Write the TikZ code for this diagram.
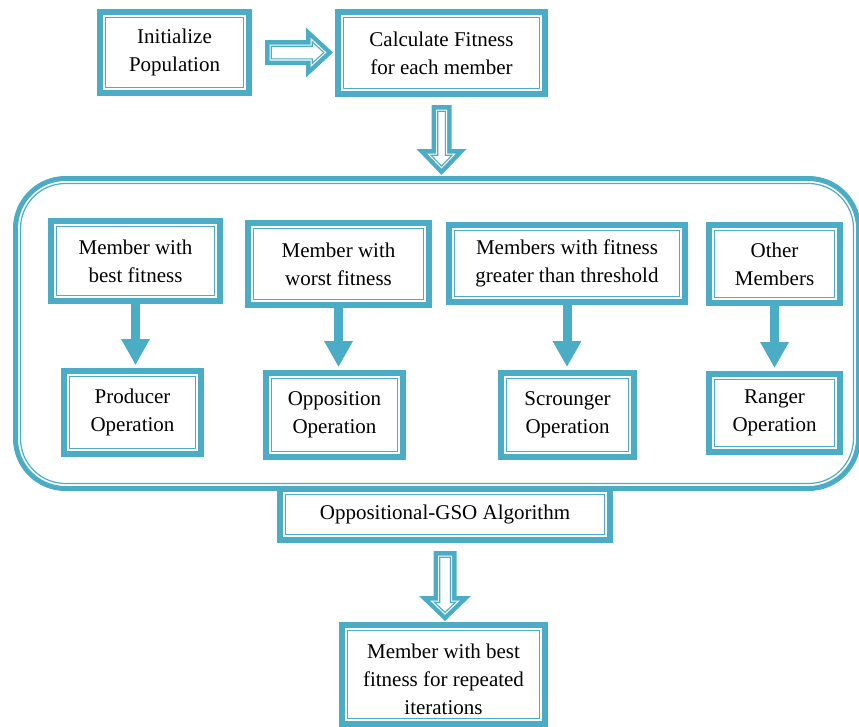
\documentclass[tikz,border=0pt]{standalone}
\usepackage{fontspec}
\setmainfont{Liberation Serif}
\usetikzlibrary{arrows.meta, positioning}
\definecolor{gsoblue}{RGB}{75,172,198}

% hollow block arrow: #1 tail, #2 angle, #3 length, #4 head width, #5 shaft width, #6 head length
\newcommand\hollowarrow[6]{%
  \begin{scope}[shift={(#1)}, rotate=#2]
    \pgfmathsetmacro\hw{#4/2}\pgfmathsetmacro\sw{#5/2}
    \fill[gsoblue] (0,-\sw) -- (#3-#6,-\sw) -- (#3-#6,-\hw) -- (#3,0) -- (#3-#6,\hw) -- (#3-#6,\sw) -- (0,\sw) -- cycle;
    \foreach \d/\how in {4.5/hagap, 6.2/haline} {
      \pgfmathsetmacro\ct{cos(atan(\hw/#6))}
      \pgfmathsetmacro\tip{#3-\d*#6/(\ct*\hw)}
      \pgfmathsetmacro\bx{#3-#6+\d}
      \pgfmathsetmacro\bh{\hw*(#6-\d)/#6-\d/\ct}
      \pgfmathsetmacro\sh{\sw-\d}
      \path[\how] (\d,-\sh) -- (\bx,-\sh) -- (\bx,-\bh) -- (\tip,0) -- (\bx,\bh) -- (\bx,\sh) -- (\d,\sh) -- cycle;
    }
  \end{scope}}

\begin{document}
\begin{tikzpicture}[
  x=1pt, y=-1pt,
  box/.style={rectangle, draw=gsoblue, line width=6pt, fill=white, align=center, inner sep=0pt,
    font=\fontsize{21}{28}\selectfont,
    path picture={\draw[gsoblue, line width=1.3pt] ([shift={(5.8pt,5.8pt)}]path picture bounding box.south west) rectangle ([shift={(-5.8pt,-5.8pt)}]path picture bounding box.north east);}},
  frame/.style={rectangle, draw=gsoblue, line width=5pt, rounded corners=50pt, inner sep=0pt,
    path picture={\draw[gsoblue, line width=1.2pt, rounded corners=45pt] ([shift={(5pt,5pt)}]path picture bounding box.south west) rectangle ([shift={(-5pt,-5pt)}]path picture bounding box.north east);}},
  flow/.style={gsoblue, line width=9pt, -{Triangle[width=27pt, length=26pt]}, shorten >=3pt},
  hagap/.style={fill=white},
  haline/.style={draw=gsoblue, line width=1.1pt}
]
  \useasboundingbox (0,0) rectangle (859,726);

  % top row
  \node[box, minimum width=149pt, minimum height=81pt] (init) at (174.5,52.5) {Initialize\\Population};
  \node[box, minimum width=207pt, minimum height=82pt] (calc) at (441.5,53) {Calculate Fitness\\for each member};

  % the GSO group
  \node[box, minimum width=330pt, minimum height=51pt] (algo) at (445,514.5) {Oppositional-GSO Algorithm};
  \node[frame, minimum width=843pt, minimum height=310pt] (gso) at (437,333.5) {};

  \node[box, minimum width=169pt, minimum height=80pt] (best) at (135.5,261) {Member with\\best fitness};
  \node[box, minimum width=181pt, minimum height=82pt] (worst) at (338.5,264) {Member with\\worst fitness};
  \node[box, minimum width=236pt, minimum height=77pt] (thresh) at (567,263.5) {Members with fitness\\greater than threshold};
  \node[box, minimum width=131pt, minimum height=78pt] (other) at (774.5,264) {Other\\Members};

  \node[box, minimum width=137pt, minimum height=83pt] (prod) at (132.5,412.5) {Producer\\Operation};
  \node[box, minimum width=137pt, minimum height=84pt] (oppo) at (334.5,415) {Opposition\\Operation};
  \node[box, minimum width=133pt, minimum height=84pt] (scro) at (567.5,415) {Scrounger\\Operation};
  \node[box, minimum width=131pt, minimum height=78pt] (rang) at (774.5,413) {Ranger\\Operation};

  \node[box, minimum width=203pt, minimum height=99pt] (final) at (443.5,674.5) {\rule{0pt}{24pt}Member with best\\fitness for repeated\\iterations};

  \draw[flow] (best.south) -- (best.south |- prod.north);
  \draw[flow] (worst.south) -- (worst.south |- oppo.north);
  \draw[flow] (thresh.south) -- (thresh.south |- scro.north);
  \draw[flow] (other.south) -- (other.south |- rang.north);

  % block arrows
  \coordinate[right=13pt of init.east] (a1);
  \coordinate[below=8pt of calc.south] (a2);
  \coordinate[below=8pt of algo.south] (a3);
  \hollowarrow{a1}{0}{68}{50}{25}{27}
  \hollowarrow{a2}{-90}{70}{50}{20}{26}
  \hollowarrow{a3}{-90}{70}{52}{23}{25}
\end{tikzpicture}
\end{document}
